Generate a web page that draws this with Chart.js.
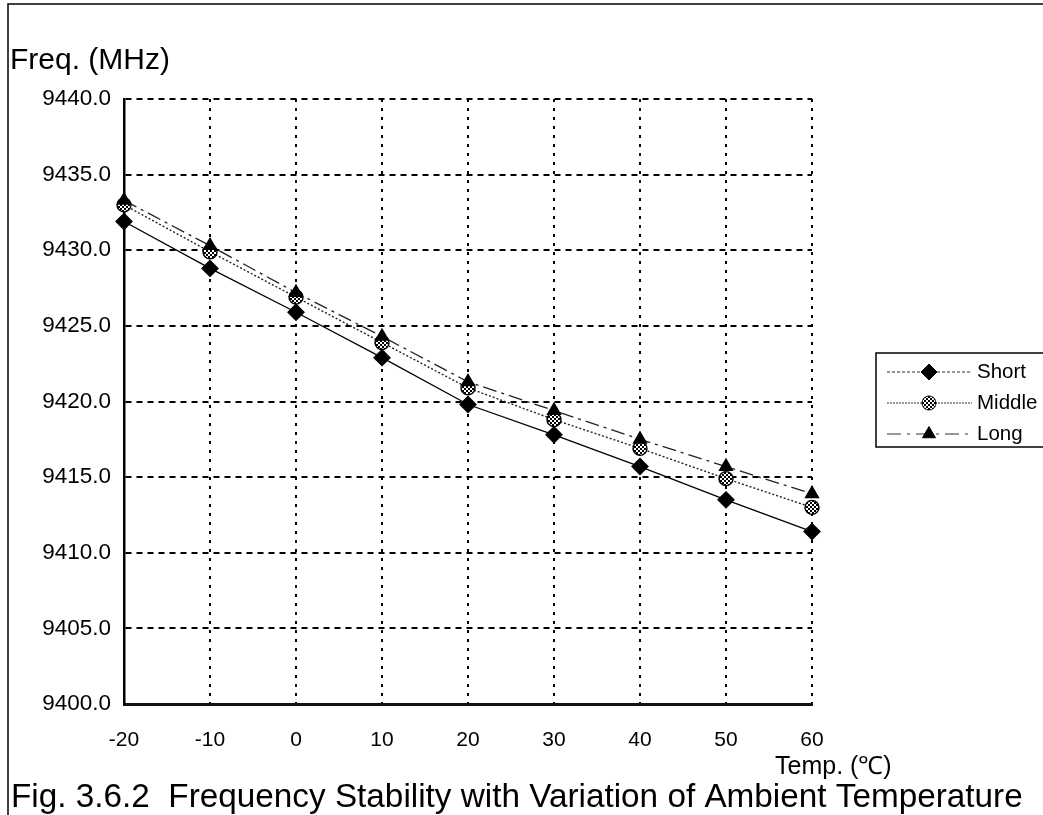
<!DOCTYPE html>
<html>
<head>
<meta charset="utf-8">
<script src="https://cdn.jsdelivr.net/npm/chart.js@4.4.1/dist/chart.umd.min.js"></script>
<style>
    body { margin: 0; background: #fff; }
    #wrap { position: relative; width: 1043px; height: 815px; }
</style>
</head>
<body>
<div id="wrap"><canvas id="myChart" width="1043" height="815"></canvas></div>
<script>
// data
const temps = [-20, -10, 0, 10, 20, 30, 40, 50, 60];
const shortFreq = [9431.9, 9428.8, 9425.9, 9422.9, 9419.8, 9417.8, 9415.7, 9413.5, 9411.4];
const middleFreq = [9433.0, 9429.9, 9426.9, 9423.9, 9420.9, 9418.8, 9416.9, 9414.9, 9413.0];
const longFreq = [9433.3, 9430.3, 9427.2, 9424.3, 9421.3, 9419.4, 9417.5, 9415.7, 9413.9];
const seriesNames = ['Short', 'Middle', 'Long'];
const yMin = 9400, yMax = 9440, yStep = 5;
const xMin = -20, xMax = 60, xStep = 10;

const FONT = '"Liberation Sans", Arial, sans-serif';
Chart.defaults.font.family = FONT;
Chart.defaults.color = '#000';

function toPoints(values) {
    return temps.map((t, i) => ({ x: t, y: values[i] }));
}

// checkered fill for the Middle marker
function checkerPattern() {
    const c = document.createElement('canvas');
    c.width = 4; c.height = 4;
    const g = c.getContext('2d');
    g.fillStyle = '#fff';
    g.fillRect(0, 0, 4, 4);
    g.fillStyle = '#000';
    g.fillRect(0, 0, 2, 2);
    g.fillRect(2, 2, 2, 2);
    return g.createPattern(c, 'repeat');
}

const frame = {
    id: 'frame',
    beforeDraw(chart) {
        const ctx = chart.ctx;
        ctx.save();
        ctx.fillStyle = '#fff';
        ctx.fillRect(0, 0, chart.width, chart.height);
        ctx.strokeStyle = '#000';
        ctx.lineWidth = 1.5;
        ctx.beginPath();
        ctx.moveTo(8, 815);
        ctx.lineTo(8, 4);
        ctx.lineTo(1043, 4);
        ctx.stroke();
        ctx.restore();
    },
    afterDraw(chart) {
        const ctx = chart.ctx;
        ctx.save();
        ctx.fillStyle = '#000';
        ctx.textBaseline = 'middle';
        ctx.font = '30px ' + FONT;
        ctx.fillText('Freq. (MHz)', 10, 61);
        ctx.font = '25px ' + FONT;
        ctx.fillText('Temp. (\u2103)', 775, 767);
        ctx.font = '33.3px ' + FONT;
        ctx.fillText('Fig. 3.6.2  Frequency Stability with Variation of Ambient Temperature', 11, 798);

        // legend
        ctx.strokeStyle = '#000';
        ctx.lineWidth = 1.5;
        ctx.strokeRect(876, 353, 180, 94);
        chart.data.datasets.forEach((ds, i) => {
            const y = 372 + i * 31;
            ctx.save();
            ctx.setLineDash(ds.legendDash);
            ctx.lineWidth = 1;
            ctx.strokeStyle = '#333';
            ctx.beginPath();
            ctx.moveTo(887, y);
            ctx.lineTo(972, y);
            ctx.stroke();
            ctx.restore();
            ctx.fillStyle = ds.pointBackgroundColor;
            ctx.strokeStyle = '#000';
            ctx.lineWidth = 1;
            Chart.helpers.drawPoint(ctx, { pointStyle: ds.pointStyle, radius: ds.pointRadius, borderWidth: 1, rotation: 0 }, 929, y);
            ctx.fillStyle = '#000';
            ctx.font = '20.5px ' + FONT;
            ctx.fillText(ds.label, 977, y);
        });
        ctx.restore();
    }
};

const ctx = document.getElementById('myChart').getContext('2d');
const chart = new Chart(ctx, {
    type: 'line',
    data: {
        datasets: [{
            label: seriesNames[0],
            data: toPoints(shortFreq),
            borderColor: '#000',
            borderWidth: 1.3,
            pointStyle: 'rectRot',
            pointRadius: 8,
            pointBackgroundColor: '#000',
            pointBorderColor: '#000',
            legendDash: [3, 2],
            order: 1,
            clip: false
        }, {
            label: seriesNames[1],
            data: toPoints(middleFreq),
            borderColor: '#222',
            borderWidth: 1.4,
            borderDash: [2, 2],
            pointStyle: 'circle',
            pointRadius: 7,
            pointBackgroundColor: checkerPattern(),
            pointBorderColor: '#000',
            legendDash: [2, 1],
            order: 2,
            clip: false
        }, {
            label: seriesNames[2],
            data: toPoints(longFreq),
            borderColor: '#222',
            borderWidth: 1.3,
            borderDash: [14, 5, 3, 5],
            pointStyle: 'triangle',
            pointRadius: 7.5,
            pointBackgroundColor: '#000',
            pointBorderColor: '#000',
            legendDash: [14, 6, 3, 6],
            order: 0,
            clip: false
        }]
    },
    options: {
        responsive: false,
        animation: false,
        layout: { padding: { top: 99, right: 231, bottom: 0, left: 0 } },
        plugins: {
            legend: { display: false },
            tooltip: { enabled: false }
        },
        elements: { line: { tension: 0 } },
        scales: {
            x: {
                type: 'linear',
                min: xMin,
                max: xMax,
                ticks: { stepSize: xStep, padding: 24, font: { size: 21 } },
                grid: { color: '#000', lineWidth: 2, drawTicks: false },
                border: { display: true, color: '#111', width: 3, dash: [3, 6] },
                afterFit: s => { s.height = 111; }
            },
            y: {
                min: yMin,
                max: yMax,
                ticks: { stepSize: yStep, padding: 13, font: { size: 22.5 }, callback: v => v.toFixed(1) },
                grid: { color: '#000', lineWidth: 2, drawTicks: false },
                border: { display: true, color: '#000', width: 2.5, dash: [6, 5] },
                afterFit: s => { s.width = 124; }
            }
        }
    },
    plugins: [frame]
});
</script>
</body>
</html>
